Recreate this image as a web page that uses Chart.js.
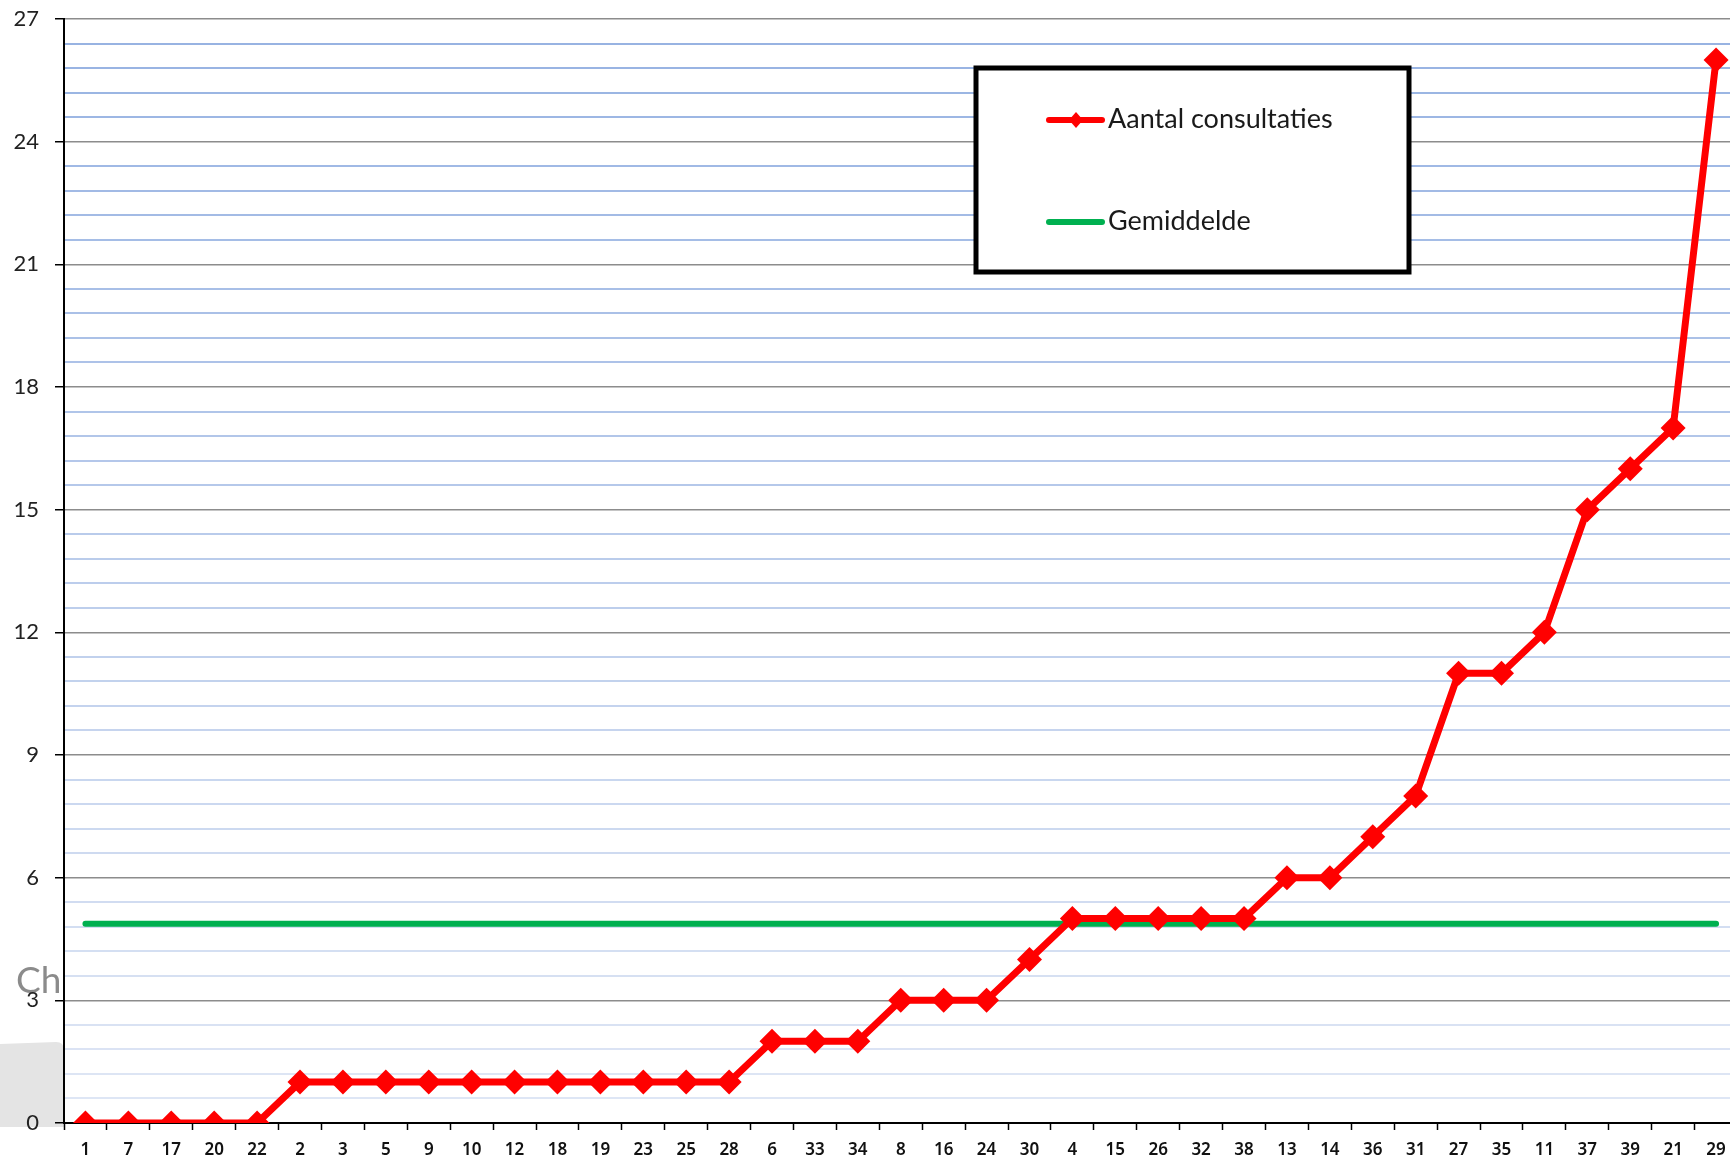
<!DOCTYPE html>
<html>
<head>
<meta charset="utf-8">
<script src="https://cdn.jsdelivr.net/npm/chart.js@4/dist/chart.umd.min.js"></script>
<style>
  html, body { margin: 0; padding: 0; background: #fff; overflow: hidden; }
  #wrap { width: 1750px; height: 1161px; position: relative; }
</style>
</head>
<body>
<div id="wrap"><canvas id="chart"></canvas></div>
<script>
// patientnummers, gesorteerd op aantal consultaties
const labels = ["1", "7", "17", "20", "22", "2", "3", "5", "9", "10", "12", "18", "19", "23", "25", "28",
  "6", "33", "34", "8", "16", "24", "30", "4", "15", "26", "32", "38", "13", "14", "36", "31",
  "27", "35", "11", "37", "39", "21", "29"];
const consultaties = [0, 0, 0, 0, 0, 1, 1, 1, 1, 1, 1, 1, 1, 1, 1, 1,
  2, 2, 2, 3, 3, 3, 4, 5, 5, 5, 5, 5, 6, 6, 7, 8,
  11, 11, 12, 15, 16, 17, 26];
const gemiddelde = [4.87, 4.87, 4.87, 4.87, 4.87, 4.87, 4.87, 4.87, 4.87, 4.87, 4.87, 4.87, 4.87,
  4.87, 4.87, 4.87, 4.87, 4.87, 4.87, 4.87, 4.87, 4.87, 4.87, 4.87, 4.87, 4.87,
  4.87, 4.87, 4.87, 4.87, 4.87, 4.87, 4.87, 4.87, 4.87, 4.87, 4.87, 4.87, 4.87];
const yMax = 27;
const yStep = 0.6;
const yMajor = 3;

function isMajor(v) {
  return Math.abs(v / yMajor - Math.round(v / yMajor)) < 1e-6;
}

// minor lines go from pale at the bottom to stronger blue at the top
function minorColor(v) {
  var t = v / yMax;
  var r = Math.round(224 - t * (224 - 150));
  var g = Math.round(231 - t * (231 - 178));
  var b = Math.round(245 - t * (245 - 226));
  return "rgb(" + r + "," + g + "," + b + ")";
}

// grey box and cut-off title behind the axis
const background = {
  id: "background",
  beforeDraw(chart) {
    var ctx = chart.ctx;
    ctx.save();
    ctx.fillStyle = "#fff";
    ctx.fillRect(0, 0, chart.width, chart.height);
    ctx.fillStyle = "#e4e4e4";
    ctx.beginPath();
    ctx.moveTo(0, 1044);
    ctx.lineTo(56, 1042);
    ctx.quadraticCurveTo(64, 1042, 64, 1050);
    ctx.lineTo(64, 1127);
    ctx.lineTo(0, 1127);
    ctx.closePath();
    ctx.fill();
    ctx.fillStyle = "rgba(110,110,110,0.8)";
    ctx.font = "37px Lato";
    ctx.textBaseline = "alphabetic";
    ctx.fillText("Ch", 16, 993);
    ctx.restore();
  }
};

// legend box inside the plot
const legendBox = {
  id: "legendBox",
  afterDraw(chart) {
    var ctx = chart.ctx;
    ctx.save();
    ctx.fillStyle = "#fff";
    ctx.fillRect(976, 68, 433, 204);
    ctx.lineWidth = 5;
    ctx.strokeStyle = "#000";
    ctx.strokeRect(976, 68, 433, 204);

    ctx.lineCap = "round";
    ctx.lineWidth = 6;
    ctx.strokeStyle = "#ff0000";
    ctx.beginPath();
    ctx.moveTo(1049, 120);
    ctx.lineTo(1102, 120);
    ctx.stroke();
    ctx.fillStyle = "#ff0000";
    ctx.beginPath();
    ctx.moveTo(1076, 112);
    ctx.lineTo(1083, 120);
    ctx.lineTo(1076, 128);
    ctx.lineTo(1069, 120);
    ctx.closePath();
    ctx.fill();

    ctx.strokeStyle = "#00b050";
    ctx.beginPath();
    ctx.moveTo(1049, 222);
    ctx.lineTo(1102, 222);
    ctx.stroke();

    ctx.fillStyle = "#1a1a1a";
    ctx.font = "27px Lato";
    ctx.textBaseline = "middle";
    ctx.fillText("Aantal consultaties", 1108, 119);
    ctx.fillText("Gemiddelde", 1108, 221);
    ctx.restore();
  }
};

new Chart(document.getElementById("chart"), {
  type: "line",
  data: {
    labels: labels,
    datasets: [
      {
        label: "Aantal consultaties",
        data: consultaties,
        borderColor: "#ff0000",
        backgroundColor: "#ff0000",
        borderWidth: 7,
        pointStyle: "rectRot",
        pointRadius: 12.5,
        pointHoverRadius: 12.5,
        pointBorderWidth: 0,
        tension: 0
      },
      {
        label: "Gemiddelde",
        data: gemiddelde,
        borderColor: "#00b050",
        borderWidth: 6,
        borderCapStyle: "round",
        pointRadius: 0,
        pointHoverRadius: 0
      }
    ]
  },
  options: {
    responsive: true,
    maintainAspectRatio: false,
    animation: false,
    events: [],
    layout: { padding: { top: 19, right: 3, left: 0, bottom: 0 } },
    plugins: {
      legend: { display: false },
      tooltip: { enabled: false }
    },
    scales: {
      x: {
        type: "category",
        offset: true,
        afterFit: function (scale) { scale.height = 38; },
        border: { display: true, color: "#000", width: 2 },
        grid: {
          offset: true,
          drawOnChartArea: false,
          drawTicks: true,
          tickLength: 7,
          tickColor: "#000",
          tickWidth: 1.5
        },
        ticks: {
          autoSkip: false,
          maxRotation: 0,
          padding: 10,
          color: "#111",
          font: { family: "Noto Sans", size: 17, weight: "600" }
        }
      },
      y: {
        min: 0,
        max: yMax,
        afterFit: function (scale) {
          scale.width = 64;
          scale.paddingTop = 0;
          scale.paddingBottom = 0;
        },
        border: { display: true, color: "#000", width: 2 },
        grid: {
          drawTicks: true,
          tickLength: 9,
          color: function (ctx) {
            var v = ctx.tick.value;
            if (isMajor(v)) return v === 0 ? "rgba(0,0,0,0)" : "#8c8c8c";
            return minorColor(v);
          },
          lineWidth: function (ctx) {
            return isMajor(ctx.tick.value) ? 1.5 : 2;
          },
          tickColor: function (ctx) {
            return isMajor(ctx.tick.value) ? "#000" : "rgba(0,0,0,0)";
          },
          tickWidth: 1.5
        },
        ticks: {
          stepSize: yStep,
          autoSkip: false,
          padding: 16,
          color: "#222",
          font: { family: "Lato", size: 22 },
          callback: function (v) {
            return isMajor(v) ? String(Math.round(v)) : "";
          }
        }
      }
    }
  },
  plugins: [background, legendBox]
});
</script>
</body>
</html>
